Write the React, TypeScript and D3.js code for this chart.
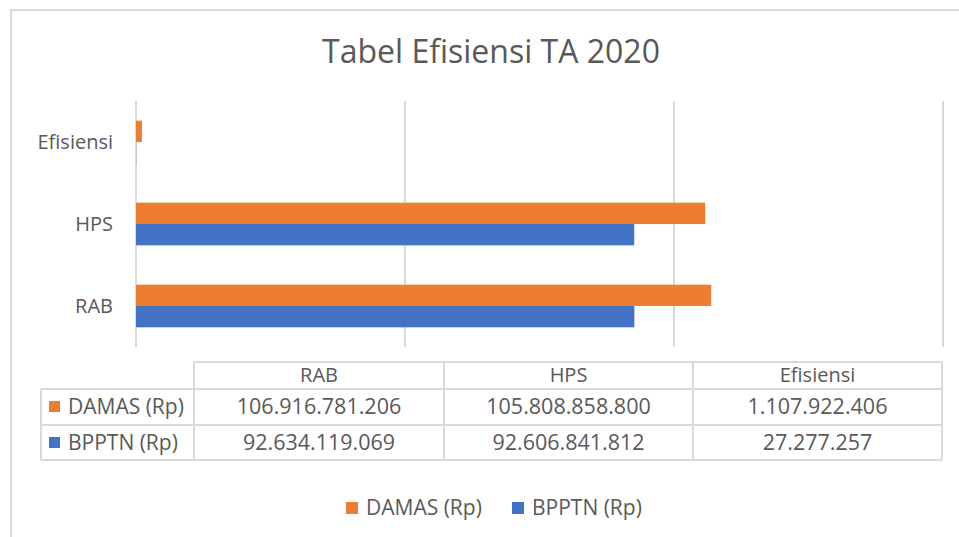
import React from "react";
import * as d3 from "d3";

const categories = ["RAB", "HPS", "Efisiensi"];
const seriesNames = ["DAMAS (Rp)", "BPPTN (Rp)"];
const damasValues = [106916781206, 105808858800, 1107922406];
const bpptnValues = [92634119069, 92606841812, 27277257];
const tickValues = [0, 50e9, 100e9, 150e9];
const colors = ["#ED7D31", "#4472C4"];

const fmt = (v: number) => d3.format(",")(v).replace(/,/g, ".");

export default function App() {
  const W = 959, H = 537;
  const font = "'Open Sans', 'Noto Sans', sans-serif";
  const textColor = "#595959";
  const gridColor = "#D9D9D9";

  const plot = { left: 136, right: 943, top: 101, bottom: 347 };
  const x = d3.scaleLinear().domain([0, 150e9]).range([plot.left, plot.right]);
  // categories drawn bottom-up: RAB at bottom
  const y = d3
    .scaleBand<string>()
    .domain([...categories].reverse())
    .range([plot.top, plot.bottom])
    .paddingInner(0.48)
    .paddingOuter(0.24);
  const inner = d3.scaleBand<string>().domain(seriesNames).range([0, y.bandwidth()]);
  const series = [damasValues, bpptnValues];

  // table layout
  const colX = [41, 194, 444, 693, 942];
  const rowY = [362, 389, 425, 460];

  return (
    <svg
      width={W}
      height={H}
      style={{ position: "absolute", left: 0, top: 0, background: "#fff" }}
      fontFamily={font}
    >
      <rect x={0} y={0} width={W} height={H} fill="#fff" />
      <rect x={11} y={10} width={W + 20} height={H + 20} fill="none" stroke={gridColor} strokeWidth={2} />
      <text x={491} y={63} textAnchor="middle" fontSize={32} fill={textColor}>
        Tabel Efisiensi TA 2020
      </text>

      {tickValues.map((t) => (
        <line key={t} x1={x(t)} x2={x(t)} y1={plot.top} y2={plot.bottom} stroke={gridColor} strokeWidth={2} />
      ))}

      {categories.map((c, i) => (
        <g key={c}>
          {series.map((vals, s) => (
            <rect
              key={s}
              x={x(0)}
              y={(y(c) as number) + (inner(seriesNames[s]) as number)}
              width={Math.max(0, x(vals[i]) - x(0))}
              height={inner.bandwidth()}
              fill={colors[s]}
            />
          ))}
          <text
            x={113}
            y={(y(c) as number) + y.bandwidth() / 2 + 7}
            textAnchor="end"
            fontSize={20}
            fill={textColor}
          >
            {c}
          </text>
        </g>
      ))}

      {/* data table */}
      <g stroke={gridColor} strokeWidth={2} fill="none">
        <line x1={colX[1]} x2={colX[4]} y1={rowY[0]} y2={rowY[0]} />
        <line x1={colX[0]} x2={colX[4]} y1={rowY[1]} y2={rowY[1]} />
        <line x1={colX[0]} x2={colX[4]} y1={rowY[2]} y2={rowY[2]} />
        <line x1={colX[0]} x2={colX[4]} y1={rowY[3]} y2={rowY[3]} />
        <line x1={colX[0]} x2={colX[0]} y1={rowY[1]} y2={rowY[3]} />
        {colX.slice(1).map((cx, i) => (
          <line key={i} x1={cx} x2={cx} y1={rowY[0]} y2={rowY[3]} />
        ))}
      </g>
      {categories.map((c, i) => (
        <text
          key={c}
          x={(colX[i + 1] + colX[i + 2]) / 2}
          y={382}
          textAnchor="middle"
          fontSize={20}
          fill={textColor}
        >
          {c}
        </text>
      ))}
      {series.map((vals, s) => (
        <g key={s}>
          <rect x={49} y={rowY[s + 1] + 12} width={11} height={11} fill={colors[s]} />
          <text x={68} y={rowY[s + 1] + 25} fontSize={21} fill={textColor}>
            {seriesNames[s]}
          </text>
          {vals.map((v, i) => (
            <text
              key={i}
              x={(colX[i + 1] + colX[i + 2]) / 2}
              y={rowY[s + 1] + 25}
              textAnchor="middle"
              fontSize={21.5}
              fill={textColor}
            >
              {fmt(v)}
            </text>
          ))}
        </g>
      ))}

      {/* legend */}
      {seriesNames.map((n, s) => {
        const lx = [346, 512][s];
        return (
          <g key={n}>
            <rect x={lx} y={502} width={12} height={12} fill={colors[s]} />
            <text x={lx + 20} y={515} fontSize={21} fill={textColor}>
              {n}
            </text>
          </g>
        );
      })}
    </svg>
  );
}
